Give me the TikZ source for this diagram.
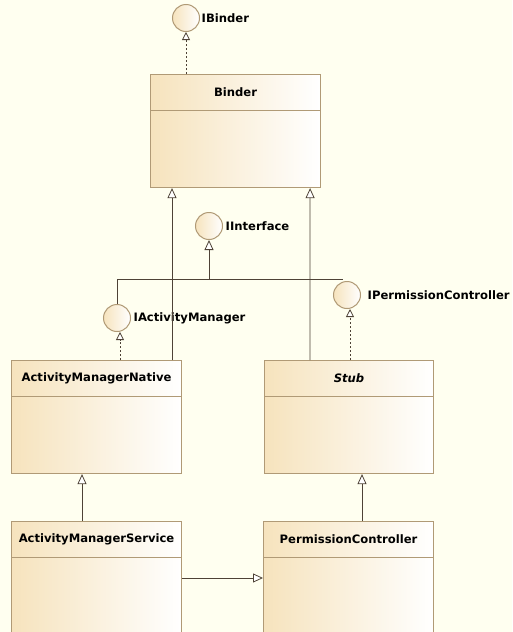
\documentclass[tikz,border=0pt]{standalone}
\usepackage{fontspec}
\setmainfont{DejaVu Sans}
\usetikzlibrary{arrows.meta,positioning}
\definecolor{paper}{HTML}{FFFFF0}
\definecolor{boxedge}{HTML}{B09A76}
\definecolor{boxfill}{HTML}{F6E3BD}
\definecolor{wire}{HTML}{4E4236}
\begin{document}
\begin{tikzpicture}[x=1pt,y=-1pt,
        classbox/.style={draw=boxedge, line width=1.1pt, left color=boxfill, right color=white,
            anchor=north west, minimum width=170pt, minimum height=113pt, inner sep=0pt},
        classname/.style={font=\fontsize{11.6}{14}\selectfont\bfseries, text=black, inner sep=0pt},
        iface/.style={circle, draw=boxedge, line width=1pt, left color=boxfill, right color=white,
            minimum size=27pt, inner sep=0pt},
        ifacename/.style={font=\fontsize{11.6}{14}\selectfont\bfseries, text=black, inner sep=0pt},
        divider/.style={draw=boxedge, line width=1pt},
        realize/.style={draw=wire, line width=0.8pt, dash pattern=on 2pt off 2pt, -{Triangle[open, fill=white, length=8pt, width=8pt]}},
        inherit/.style={draw=wire, line width=0.8pt, -{Triangle[open, fill=white, length=10pt, width=9pt]}}]
        \path[use as bounding box, fill=paper] (0,0) rectangle (512,632);
        \clip (0,0) rectangle (512,632);
        % classes
        \node[classbox] (binder) at (150,74) {};
        \node[classbox] (amn) at (11,360) {};
        \node[classbox, minimum width=169pt] (stub) at (264,360) {};
        \node[classbox, minimum height=140pt] (ams) at (11,521) {};
        \node[classbox, minimum height=140pt] (pc) at (263,521) {};
        \node[classname] at ([yshift=-18pt]binder.north) {Binder};
        \node[classname] at ([yshift=-18pt]amn.north) {ActivityManagerNative};
        \node[classname] at ([yshift=-18pt]stub.north) {\itshape Stub};
        \node[classname] at ([yshift=-18pt]ams.north) {ActivityManagerService};
        \node[classname] at ([yshift=-18pt]pc.north) {PermissionController};
        \foreach \c in {binder,amn,stub,ams,pc}
            \draw[divider] ([yshift=-36pt]\c.north west) -- ([yshift=-36pt]\c.north east);
        % interfaces
        \node[iface] (ibinder) at (186,18) {};
        \node[iface] (iinterface) at (209,226) {};
        \node[iface] (iam) at (117,318) {};
        \node[iface] (ipc) at (347,295) {};
        \node[ifacename, right=1.5pt of ibinder, anchor=west] {IBinder};
        \node[ifacename, right=2.5pt of iinterface, anchor=west] {IInterface};
        \node[ifacename, right=2.5pt of iam, anchor=west] {IActivityManager};
        \node[ifacename, right=6.5pt of ipc, anchor=west] {IPermissionController};
        % realizations
        \draw[realize] (ibinder |- binder.north) -- (ibinder.south);
        \draw[realize] ([xshift=3pt]iam |- amn.north) -- ([xshift=3pt]iam.south);
        \draw[realize] ([xshift=3pt]ipc |- stub.north) -- ([xshift=3pt]ipc.south);
        % interface tree
        \draw[draw=wire, line width=0.8pt] (iam.north) |- ([shift={(-4pt,2pt)}]ipc.north);
        \draw[inherit] ([yshift=2pt]iinterface |- ipc.north) -- (iinterface.south);
        % generalizations
        \draw[inherit] ([xshift=161pt]amn.north west) -- ([xshift=22pt]binder.south west);
        \draw[inherit] ([xshift=46pt]stub.north west) -- ([xshift=-11pt]binder.south east);
        \draw[inherit] ([xshift=71pt]ams.north west) -- ([xshift=71pt]amn.south west);
        \draw[inherit] ([xshift=99pt]pc.north west) -- ([xshift=98pt]stub.south west);
        \draw[inherit] ([yshift=-57pt]ams.north east) -- ([yshift=-57pt]pc.north west);
\end{tikzpicture}
\end{document}
